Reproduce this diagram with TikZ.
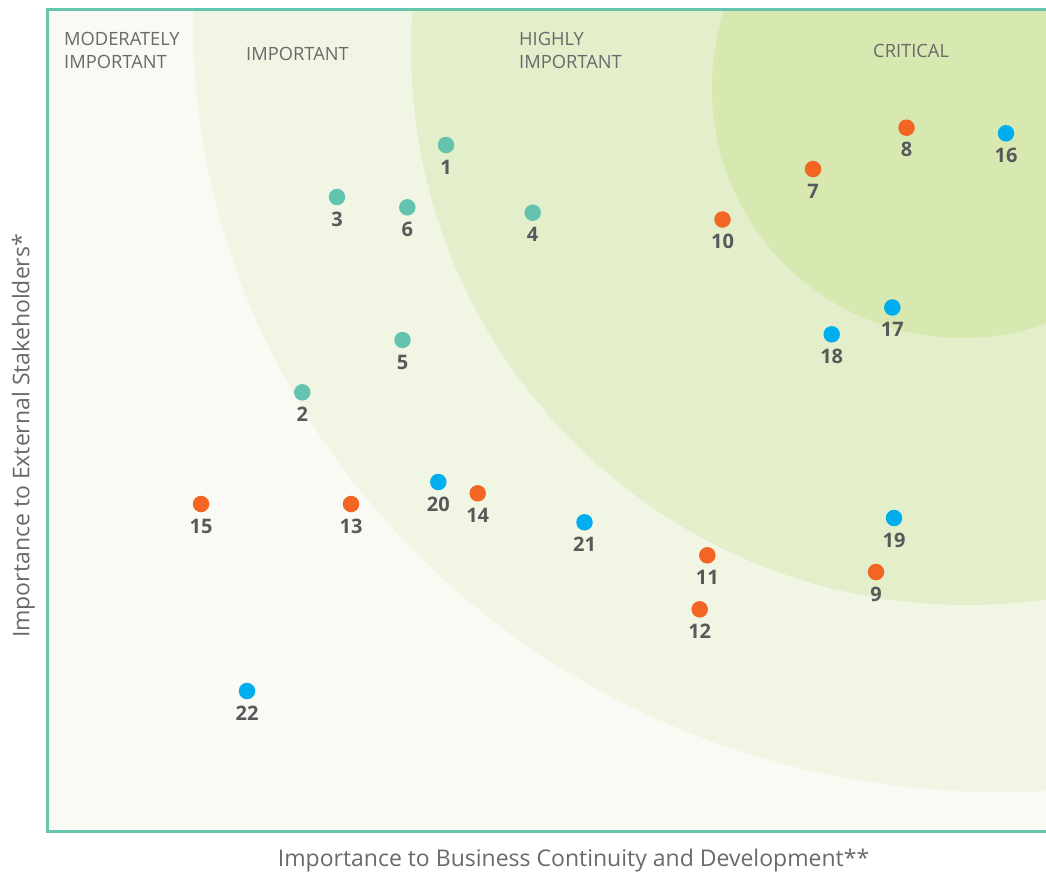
\documentclass[tikz,border=0pt]{standalone}
\usepackage{fontspec}
\setmainfont{Open Sans}
\definecolor{frame}{RGB}{101,197,173}
\definecolor{cmod}{RGB}{249,250,243}
\definecolor{cimp}{RGB}{241,246,228}
\definecolor{chigh}{RGB}{226,239,202}
\definecolor{ccrit}{RGB}{215,232,176}
\definecolor{dteal}{RGB}{99,195,174}
\definecolor{dorange}{RGB}{242,101,34}
\definecolor{dblue}{RGB}{0,174,239}
\definecolor{numgray}{RGB}{88,89,91}
\definecolor{txtgray}{RGB}{105,106,108}
\tikzset{
  dot/.style={circle, inner sep=0pt, minimum size=16.5pt, fill=#1},
  num/.style={font=\bfseries\fontsize{20}{22}\selectfont, text=numgray, inner sep=0pt},
  cat/.style={font=\fontsize{18.3}{23}\selectfont, text=txtgray, inner sep=0pt, align=left},
  axislabel/.style={font=\fontsize{23}{26}\selectfont, text=txtgray, inner sep=0pt},
  framestyle/.style={draw=frame, line width=3pt}
}
\begin{document}
\begin{tikzpicture}[x=1pt,y=-1pt]
\useasboundingbox (0,0) rectangle (1046,873);
\fill[white] (0,0) rectangle (1046,873);
\begin{scope}
  \clip (48,10) rectangle (1046,832);
  \fill[cmod] (48,10) rectangle (1046,832);
  \fill[cimp] (1000,20) ellipse [x radius=807pt, y radius=772pt];
  \fill[chigh] (967,49) circle [radius=556pt];
  \fill[ccrit] (962,88) circle [radius=250pt];
\end{scope}
\draw[framestyle] (1048,9.5) -- (47.7,9.5) -- (47.7,831.5) -- (1048,831.5);
% zone labels
\node[cat, anchor=north west] (lmod) at (64,32) {MODERATELY\\IMPORTANT};
\node[cat, anchor=north west] (limp) at (246,47) {IMPORTANT};
\node[cat, anchor=north west] (lhigh) at (519,32) {HIGHLY\\IMPORTANT};
\node[cat, anchor=north west] (lcrit) at (873,44) {CRITICAL};
% axis labels
\node[axislabel, anchor=base] (xlab) at (573.5,866.7) {Importance to Business Continuity and Development**};
\node[axislabel, anchor=base, rotate=90] (ylab) at (29.3,436) {Importance to External Stakeholders*};
% dots
\foreach \n/\x/\y/\c in {
  1/446/145/dteal, 2/302.3/392.3/dteal, 3/337/197/dteal, 4/532.7/212.7/dteal,
  5/402.5/340/dteal, 6/407.3/207.3/dteal,
  7/813/169/dorange, 8/906.5/127.7/dorange, 9/876/572/dorange, 10/722.5/219.5/dorange,
  11/707.3/555.3/dorange, 12/699.7/609.3/dorange, 13/351/504/dorange, 14/477.7/493.3/dorange,
  15/201/504/dorange,
  16/1006/133.3/dblue, 17/892.3/307.5/dblue, 18/831.7/334.3/dblue, 19/894/518/dblue,
  20/438.3/482/dblue, 21/584.5/522.3/dblue, 22/247/691/dblue}{
  \node[dot=\c] (d\n) at (\x,\y) {};
  \node[num] (n\n) at (\x,\y+22) {\n};
}
\end{tikzpicture}
\end{document}
